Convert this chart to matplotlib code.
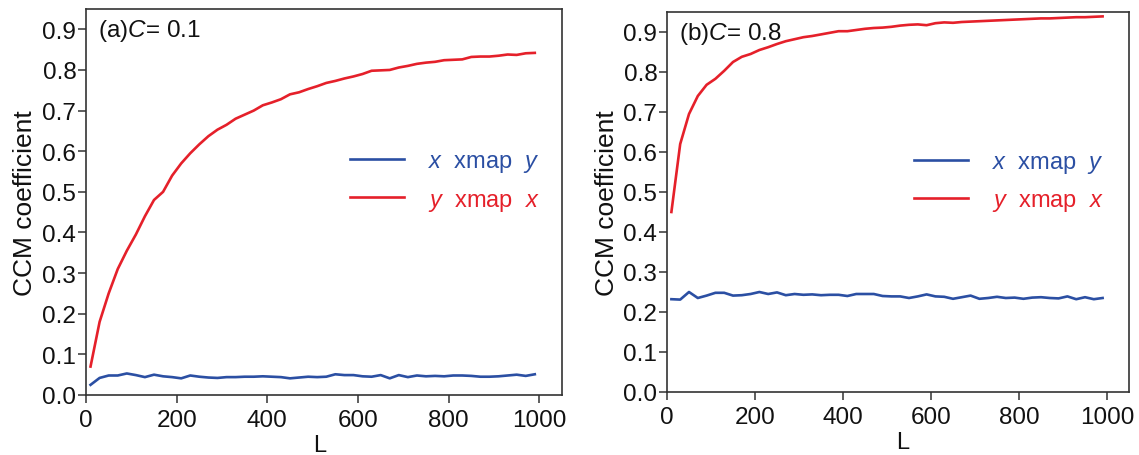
import numpy as np
import matplotlib
matplotlib.use("Agg")
import matplotlib.pyplot as plt

plt.rcParams['font.family'] = ['Liberation Sans', 'DejaVu Sans']
plt.rcParams['mathtext.fontset'] = 'custom'
plt.rcParams['mathtext.rm'] = 'Liberation Sans'
plt.rcParams['mathtext.it'] = 'Liberation Sans:italic'

# CCM library length L
L = list(range(10, 1000, 20))

# panel (a) C = 0.1
xy_a = [0.025, 0.042, 0.048, 0.048, 0.053, 0.049, 0.044, 0.050, 0.046, 0.044,
        0.041, 0.048, 0.045, 0.043, 0.042, 0.044, 0.044, 0.045, 0.045, 0.046,
        0.045, 0.044, 0.041, 0.043, 0.045, 0.044, 0.045, 0.051, 0.049, 0.049,
        0.046, 0.045, 0.049, 0.041, 0.049, 0.044, 0.048, 0.046, 0.047, 0.046,
        0.048, 0.048, 0.047, 0.045, 0.045, 0.046, 0.048, 0.050, 0.047, 0.051]
yx_a = [0.070, 0.180, 0.250, 0.310, 0.355, 0.395, 0.440, 0.480, 0.500, 0.540,
        0.570, 0.595, 0.617, 0.637, 0.653, 0.665, 0.680, 0.690, 0.700, 0.713,
        0.720, 0.728, 0.740, 0.745, 0.753, 0.760, 0.768, 0.773, 0.779, 0.784,
        0.790, 0.798, 0.799, 0.800, 0.806, 0.810, 0.815, 0.818, 0.820, 0.824,
        0.825, 0.826, 0.832, 0.833, 0.833, 0.835, 0.838, 0.837, 0.841, 0.842]

# panel (b) C = 0.8
xy_b = [0.232, 0.231, 0.250, 0.235, 0.241, 0.248, 0.248, 0.241, 0.242, 0.245,
        0.250, 0.245, 0.249, 0.242, 0.245, 0.243, 0.244, 0.242, 0.243, 0.243,
        0.240, 0.245, 0.245, 0.245, 0.240, 0.239, 0.239, 0.235, 0.239, 0.244,
        0.239, 0.238, 0.233, 0.237, 0.241, 0.233, 0.235, 0.238, 0.235, 0.236,
        0.233, 0.236, 0.237, 0.235, 0.234, 0.239, 0.232, 0.237, 0.232, 0.235]
yx_b = [0.450, 0.620, 0.695, 0.740, 0.768, 0.783, 0.803, 0.825, 0.838, 0.845,
        0.855, 0.862, 0.870, 0.877, 0.882, 0.887, 0.890, 0.894, 0.898, 0.902,
        0.902, 0.905, 0.908, 0.910, 0.911, 0.913, 0.916, 0.918, 0.919, 0.917,
        0.922, 0.924, 0.923, 0.925, 0.926, 0.927, 0.928, 0.929, 0.930, 0.931,
        0.932, 0.933, 0.934, 0.934, 0.935, 0.936, 0.937, 0.937, 0.938, 0.939]

panels = [
    ("(a)$C$= 0.1", xy_a, yx_a),
    ("(b)$C$= 0.8", xy_b, yx_b),
]

blue = '#2b4fa3'
red = '#e5202a'
W, H = 1139, 456

fig = plt.figure(figsize=(W / 100, H / 100), dpi=100)
# axes boxes in pixels: left, bottom, right, top (from the top of the image)
boxes = [(86, 396, 562, 10), (667, 393, 1129, 13)]
leg_x = [0.555, 0.535]
xl_x = [0.49, 0.51]

for i, (title, xy, yx) in enumerate(panels):
    l, b, r, t = boxes[i]
    ax = fig.add_axes([l / W, (H - b) / H, (r - l) / W, (b - t) / H])
    ax.plot(L, xy, color=blue, lw=1.9, label="$x$  xmap  $y$")
    ax.plot(L, yx, color=red, lw=1.9, label="$y$  xmap  $x$")
    ax.set_xlim(0, 1050)
    ax.set_ylim(0, 0.95)
    ax.set_xticks(range(0, 1001, 200))
    ax.set_yticks(np.arange(0, 0.91, 0.1))
    ax.set_yticklabels(["%.1f" % v for v in np.arange(0, 0.91, 0.1)])
    for s in ax.spines.values():
        s.set_color('#333333')
        s.set_linewidth(1.2)
    ax.tick_params(direction='out', length=6, width=1.1, color='#333333',
                   labelsize=17.5, labelcolor='#111111')
    ax.tick_params(axis='y', pad=1)
    ax.tick_params(axis='x', pad=4)
    ax.set_ylabel("CCM coefficient", fontsize=19, color='#111111')
    ax.yaxis.set_label_coords(-0.103, 0.5)
    ax.set_xlabel("L", fontsize=17, color='#111111')
    ax.xaxis.set_label_coords(xl_x[i], -0.102)
    ax.text(0.025, 0.945, title, transform=ax.transAxes, fontsize=17.5,
            va='center', ha='left', color='#111111')
    ax.legend(loc='center left', bbox_to_anchor=(leg_x[i], 0.553),
              frameon=False, fontsize=17, handlelength=2.3, handletextpad=1.0,
              borderpad=0, borderaxespad=0, labelspacing=0.6,
              labelcolor='linecolor')

fig.savefig("out.png", dpi=100)
